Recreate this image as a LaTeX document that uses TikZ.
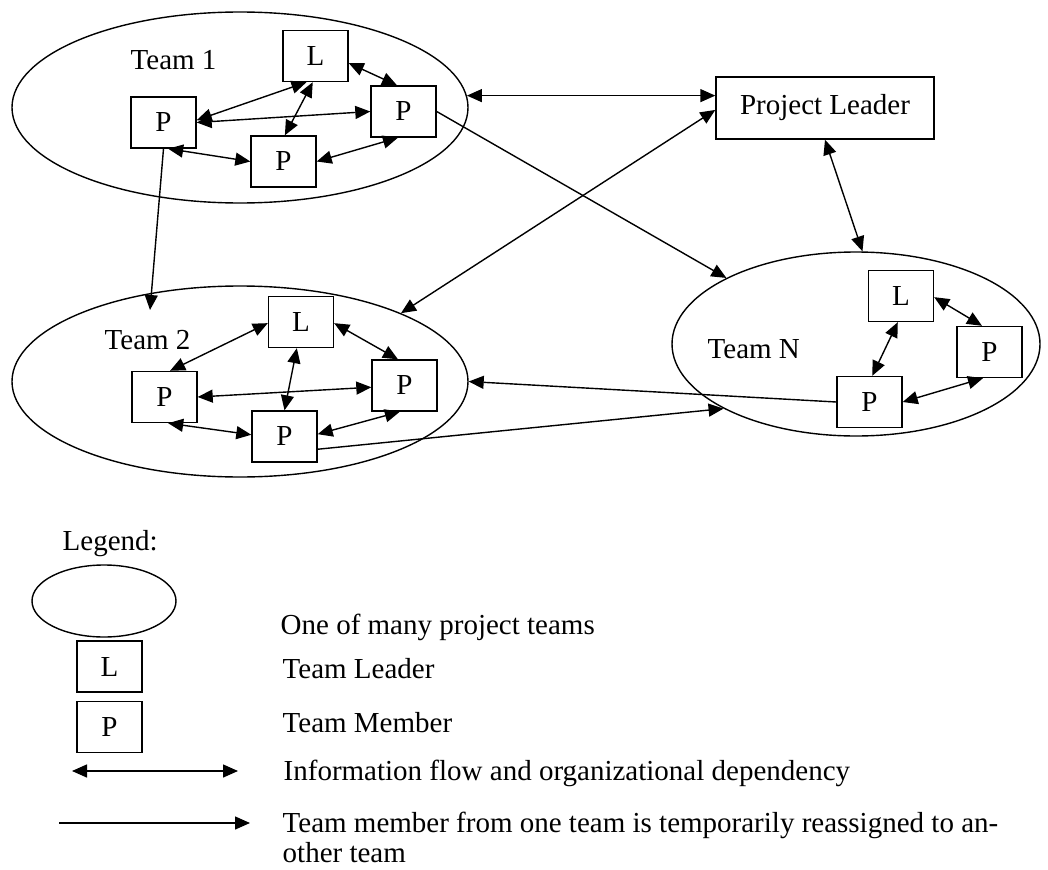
\documentclass[tikz,border=0pt]{standalone}
\usepackage{fontspec}
\setmainfont{Liberation Serif}
\usetikzlibrary{arrows.meta, shapes.geometric}

\begin{document}
\begin{tikzpicture}[x=1pt, y=-1pt, line width=1.4pt,
    every node/.style={font=\fontsize{29}{30}\selectfont},
    team/.style={ellipse, draw, inner sep=0pt},
    person/.style={rectangle, draw, minimum width=65pt, minimum height=51pt, inner sep=0pt},
    leader/.style={rectangle, draw, minimum width=218pt, minimum height=62pt},
    teamlabel/.style={anchor=base west, inner sep=0pt},
    legendtext/.style={anchor=base west, inner sep=0pt, align=left},
    infoflow/.style={{Triangle[length=15pt,width=13pt]}-{Triangle[length=15pt,width=13pt]}},
    reassign/.style={-{Triangle[length=15pt,width=13pt]}}
  ]
  \useasboundingbox (0,0) rectangle (1048,869);

  % Teams (Ellipsen)
  \node[team, minimum width=456pt, minimum height=191pt] (T1) at (240,107.5) {};
  \node[team, minimum width=456pt, minimum height=191pt] (T2) at (240,381.5) {};
  \node[team, minimum width=368pt, minimum height=184pt] (TN) at (856,344) {};

  \node[teamlabel] (T1lab) at (130,70) {Team 1};
  \node[teamlabel] (T2lab) at (104,349) {Team 2};
  \node[teamlabel] (TNlab) at (707,358) {Team N};

  % Projektleiter
  \node[leader] (PL) at (825,108) {Project Leader};

  % Team 1
  \node[person] (L1)  at (315.5,56)    {L};
  \node[person] (P1l) at (163.5,122.5) {P};
  \node[person] (P1r) at (403.5,111.5) {P};
  \node[person] (P1b) at (283.5,161.5) {P};

  % Team 2
  \node[person] (L2)  at (301,322)     {L};
  \node[person] (P2l) at (164.5,397)   {P};
  \node[person] (P2r) at (404.5,385.5) {P};
  \node[person] (P2b) at (284.5,436.5) {P};

  % Team N
  \node[person] (LN)  at (901,296)     {L};
  \node[person] (PNr) at (989.5,352)   {P};
  \node[person] (PNb) at (869.5,402)   {P};

  % Informationsfluss innerhalb der Teams
  \draw[infoflow] (L1.-12) -- (P1r.104);
  \draw[infoflow] (L1.-109) -- (P1l.4);
  \draw[infoflow] (L1.-96) -- (P1b.87);
  \draw[infoflow] (P1l.0) -- (P1r.180);
  \draw[infoflow] (P1l.-80) -- (P1b.west);
  \draw[infoflow] (P1b.east) -- (P1r.-102);

  \draw[infoflow] (L2.182) -- (P2l.78);
  \draw[infoflow] (L2.-2) -- (P2r.104);
  \draw[infoflow] (L2.-99) -- (P2b.north);
  \draw[infoflow] (P2l.east) -- (P2r.183);
  \draw[infoflow] (P2l.-82) -- (P2b.177);
  \draw[infoflow] (P2b.4) -- (P2r.-100);

  \draw[infoflow] (LN.-2) -- (PNr.106);
  \draw[infoflow] (LN.-97) -- (PNb.84);
  \draw[infoflow] (PNb.east) -- (PNr.-104);

  % Verbindungen zum Projektleiter
  \draw[infoflow] (T1.3) -- (T1.3 -| PL.west);
  \draw[infoflow] (T2.23) -- (PL.181);
  \draw[infoflow] (PL.south) -- (TN.86);

  % Umbesetzungen zwischen Teams
  \coordinate (T2in) at (150,310);
  \draw[reassign] (P1l.south) -- (T2in);
  \draw[reassign] (P1r.east) -- (TN.153);
  \draw[reassign] (PNb.west) -- (T2.0);
  \draw[reassign] (P2b.-21) -- (TN.206);

  % Legende
  \node[legendtext] (leg) at (62,550) {Legend:};
  \node[team, minimum width=144pt, minimum height=72pt] (legT) at (104,601) {};
  \node[person] (legL) at (109.5,666.5) {L};
  \node[person] (legP) at (109.5,727) {P};
  \coordinate (f1) at (72,771);
  \coordinate (f2) at (238,771);
  \draw[infoflow] (f1) -- (f2);
  \coordinate (r1) at (59,823);
  \coordinate (r2) at (250,823);
  \draw[reassign] (r1) -- (r2);

  \node[legendtext] (legTtxt) at (280,634) {One of many project teams};
  \node[legendtext] (legLtxt) at (282,678) {Team Leader};
  \node[legendtext] (legPtxt) at (282,732) {Team Member};
  \node[legendtext] (legftxt) at (283,780) {Information flow and organizational dependency};
  \node[legendtext] (legrtxt) at (282,862) {Team member from one team is temporarily reassigned to an-\\other team};

\end{tikzpicture}
\end{document}
